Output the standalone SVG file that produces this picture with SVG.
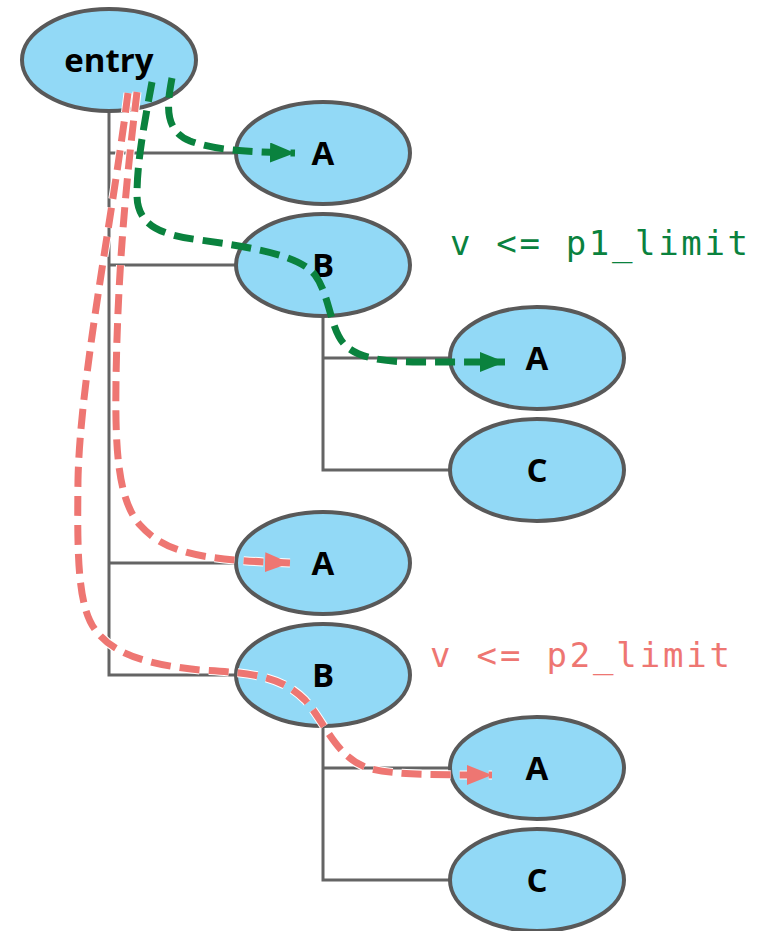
<svg xmlns="http://www.w3.org/2000/svg" width="777" height="931" viewBox="0 0 777 931">
<style>
.tree{fill:none;stroke:#646464;stroke-width:3}
.node ellipse{fill:#92D9F6;stroke:#595959;stroke-width:4}
.node text{font-family:"Open Sans","Liberation Sans",sans-serif;font-weight:700;font-size:33px;text-anchor:middle;fill:#000}
.g{fill:none;stroke:#0A823E;stroke-width:7;stroke-dasharray:20 9}
.r{fill:none;stroke:#EE7672;stroke-width:7;stroke-dasharray:20 9}
.halo{fill:none;stroke:#fff;stroke-width:9;stroke-dasharray:20 9}
.lbl{font-family:"DejaVu Sans Mono","Liberation Mono",monospace;font-size:34px}
</style>
<defs>
<marker id="ag" markerUnits="userSpaceOnUse" markerWidth="28" markerHeight="22" refX="25" refY="10" orient="auto"><path d="M0,0 L25,10 L0,20 z" fill="#0A823E"/></marker>
<marker id="ar" markerUnits="userSpaceOnUse" markerWidth="28" markerHeight="22" refX="25" refY="10" orient="auto"><path d="M0,0 L25,10 L0,20 z" fill="#EE7672"/></marker>
</defs>
<rect width="777" height="931" fill="#fff"/>
<g id="tree-connectors">
<path class="tree" d="M109,111 V675 H236 M109,153 H236 M109,265 H236 M109,563 H236"/>
<path class="tree" d="M323,317 V470 H450 M323,358 H450"/>
<path class="tree" d="M323,727 V880 H450 M323,768 H450"/>
</g>
<g id="n-entry" class="node"><ellipse cx="109" cy="60" rx="87" ry="51"/><text x="109" y="72">entry</text></g>
<g id="n-a1" class="node"><ellipse cx="323" cy="153" rx="87" ry="51"/><text x="323" y="165">A</text></g>
<g id="n-b1" class="node"><ellipse cx="323" cy="265" rx="87" ry="51"/><text x="323" y="277">B</text></g>
<g id="n-a2" class="node"><ellipse cx="537" cy="358" rx="87" ry="51"/><text x="537" y="370">A</text></g>
<g id="n-c1" class="node"><ellipse cx="537" cy="470" rx="87" ry="51"/><text x="537" y="482">C</text></g>
<g id="n-a3" class="node"><ellipse cx="323" cy="563" rx="87" ry="51"/><text x="323" y="575">A</text></g>
<g id="n-b2" class="node"><ellipse cx="323" cy="675" rx="87" ry="51"/><text x="323" y="687">B</text></g>
<g id="n-a4" class="node"><ellipse cx="537" cy="768" rx="87" ry="51"/><text x="537" y="780">A</text></g>
<g id="n-c2" class="node"><ellipse cx="537" cy="880" rx="87" ry="51"/><text x="537" y="892">C</text></g>
<g id="flows">
<path class="halo" d="M137,92 C130,150 118,250 116,380 C115,450 118,500 140,525 C165,553 200,560 290,563"/>
<path class="r" marker-end="url(#ar)" d="M137,92 C130,150 118,250 116,380 C115,450 118,500 140,525 C165,553 200,560 290,563"/>
<path class="halo" d="M128,93 C112,220 80,380 78,480 C77,560 78,610 97,632 C115,655 150,665 200,670 C250,673 280,675 305,700 C325,722 335,755 365,767 C385,774 420,775 492,775"/>
<path class="r" marker-end="url(#ar)" d="M128,93 C112,220 80,380 78,480 C77,560 78,610 97,632 C115,655 150,665 200,670 C250,673 280,675 305,700 C325,722 335,755 365,767 C385,774 420,775 492,775"/>
<path class="g" marker-end="url(#ag)" d="M172,78 C168,100 162,130 190,141 C215,150 245,152 295,153"/>
<path class="g" marker-end="url(#ag)" d="M152,82 C145,120 137,160 137,195 C137,225 160,235 200,240 C250,247 300,255 315,275 C330,295 330,330 345,345 C360,360 390,362 420,362 L505,362"/>
</g>
<text class="lbl" x="450" y="255" fill="#0A823E" textLength="298" lengthAdjust="spacing">v &lt;= p1_limit</text>
<text class="lbl" x="430" y="667" fill="#EE7672" textLength="300" lengthAdjust="spacing">v &lt;= p2_limit</text>
</svg>
